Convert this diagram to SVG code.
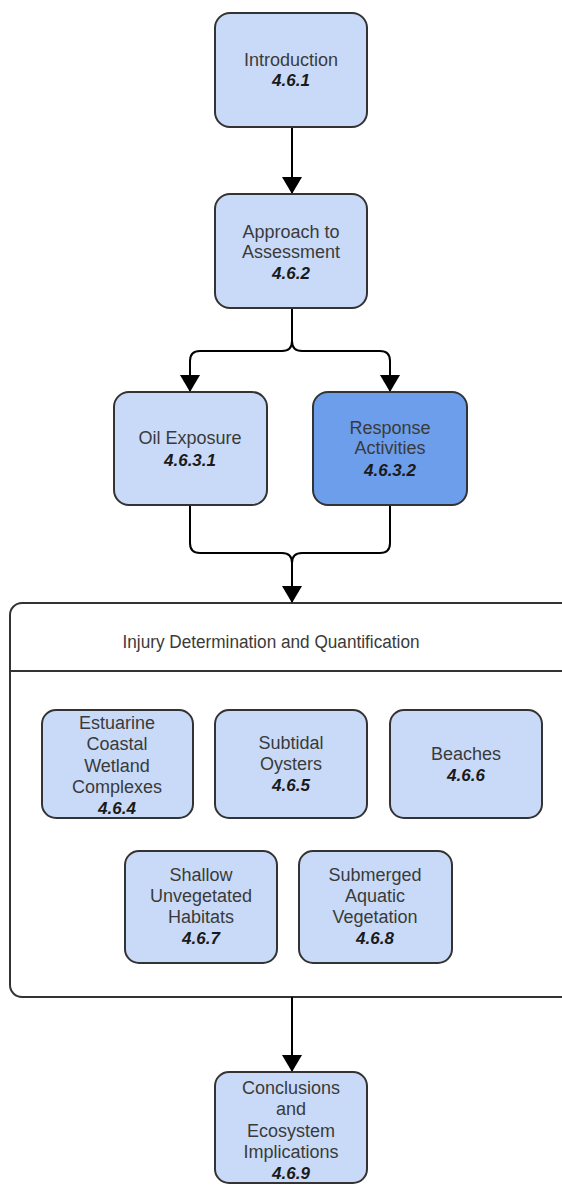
<svg xmlns="http://www.w3.org/2000/svg" width="562" height="1186" viewBox="0 0 562 1186">
<style>
.box{fill:#c9daf8;stroke:#333;stroke-width:2}
.dark{fill:#6d9eeb}
.t{font-family:"Liberation Sans",Arial,sans-serif;font-size:18px;fill:#3a3a3a;text-anchor:middle}
.n{font-size:17px;font-weight:bold;font-style:italic;fill:#1a1a1a}
.c{fill:none;stroke:#000;stroke-width:2}
</style>
<defs>
<marker id="ah" markerWidth="17" markerHeight="20" refX="16" refY="10" orient="auto" markerUnits="userSpaceOnUse" viewBox="0 0 17 20">
<path d="M0,0 L17,10 L0,20 Z" fill="#000"/>
</marker>
</defs>
<rect x="0" y="0" width="562" height="1186" fill="#fff"/>
<g id="container">
<rect x="10" y="603" width="600" height="394" rx="12" fill="#fff" stroke="#333" stroke-width="2"/>
<line x1="10" y1="671" x2="562" y2="671" stroke="#333" stroke-width="2"/>
<text class="t" x="271" y="648" textLength="297" lengthAdjust="spacingAndGlyphs">Injury Determination and Quantification</text>
</g>
<g id="connectors">
<path class="c" d="M292,127 V193" marker-end="url(#ah)"/>
<path class="c" d="M292,308 V341 Q292,351 282,351 H200 Q190,351 190,361 V391" marker-end="url(#ah)"/>
<path class="c" d="M292,308 V341 Q292,351 302,351 H380 Q390,351 390,361 V391" marker-end="url(#ah)"/>
<path class="c" d="M190,505 V543 Q190,553 200,553 H282 Q292,553 292,563 V602" marker-end="url(#ah)"/>
<path class="c" d="M390,505 V543 Q390,553 380,553 H302 Q292,553 292,563 V602"/>
<path class="c" d="M292,997 V1071" marker-end="url(#ah)"/>
</g>
<g id="intro">
<rect class="box" x="215" y="13" width="152" height="114" rx="15"/>
<text class="t" x="291" y="66">Introduction</text>
<text class="t n" x="291" y="86">4.6.1</text>
</g>
<g id="approach">
<rect class="box" x="215" y="194" width="152" height="114" rx="15"/>
<text class="t" x="291" y="238">Approach to</text>
<text class="t" x="291" y="258">Assessment</text>
<text class="t n" x="291" y="279">4.6.2</text>
</g>
<g id="oil">
<rect class="box" x="114" y="392" width="153" height="113" rx="15"/>
<text class="t" x="190" y="444">Oil Exposure</text>
<text class="t n" x="190" y="466">4.6.3.1</text>
</g>
<g id="response">
<rect class="box dark" x="313" y="392" width="154" height="113" rx="15"/>
<text class="t" x="390" y="434">Response</text>
<text class="t" x="390" y="454">Activities</text>
<text class="t n" x="390" y="476">4.6.3.2</text>
</g>
<g id="estuarine">
<rect class="box" x="42" y="710" width="151" height="108" rx="14"/>
<text class="t" x="117" y="729">Estuarine</text>
<text class="t" x="117" y="750">Coastal</text>
<text class="t" x="117" y="772">Wetland</text>
<text class="t" x="117" y="793">Complexes</text>
<text class="t n" x="117" y="814">4.6.4</text>
</g>
<g id="subtidal">
<rect class="box" x="215" y="710" width="152" height="108" rx="14"/>
<text class="t" x="291" y="749">Subtidal</text>
<text class="t" x="291" y="770">Oysters</text>
<text class="t n" x="291" y="791">4.6.5</text>
</g>
<g id="beaches">
<rect class="box" x="390" y="710" width="152" height="108" rx="14"/>
<text class="t" x="466" y="760">Beaches</text>
<text class="t n" x="466" y="781">4.6.6</text>
</g>
<g id="shallow">
<rect class="box" x="125" y="851" width="152" height="112" rx="14"/>
<text class="t" x="201" y="881">Shallow</text>
<text class="t" x="201" y="902">Unvegetated</text>
<text class="t" x="201" y="923">Habitats</text>
<text class="t n" x="201" y="944">4.6.7</text>
</g>
<g id="submerged">
<rect class="box" x="299" y="851" width="153" height="112" rx="14"/>
<text class="t" x="375" y="881">Submerged</text>
<text class="t" x="375" y="902">Aquatic</text>
<text class="t" x="375" y="923">Vegetation</text>
<text class="t n" x="375" y="944">4.6.8</text>
</g>
<g id="conclusions">
<rect class="box" x="215" y="1072" width="152" height="111" rx="14"/>
<text class="t" x="291" y="1094">Conclusions</text>
<text class="t" x="291" y="1115">and</text>
<text class="t" x="291" y="1137">Ecosystem</text>
<text class="t" x="291" y="1158">Implications</text>
<text class="t n" x="291" y="1179">4.6.9</text>
</g>
</svg>
